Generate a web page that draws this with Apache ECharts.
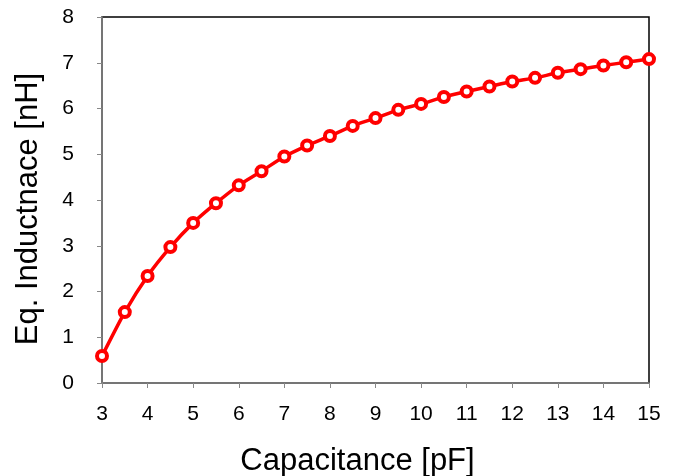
<!DOCTYPE html>
<html>
<head>
<meta charset="utf-8">
<script src="https://cdn.jsdelivr.net/npm/echarts@6/dist/echarts.min.js"></script>
<style>
  html, body { margin: 0; padding: 0; background: #fff; }
  #chart { width: 673px; height: 476px; }
</style>
</head>
<body>
<div id="chart"></div>
<script>
// capacitance [pF] and equivalent inductance [nH]
var capacitance = [3, 3.5, 4, 4.5, 5, 5.5, 6, 6.5, 7, 7.5, 8, 8.5, 9,
  9.5, 10, 10.5, 11, 11.5, 12, 12.5, 13, 13.5, 14, 14.5, 15];
var inductance = [0.59, 1.55, 2.34, 2.97, 3.50, 3.93, 4.32, 4.63, 4.95, 5.19, 5.40, 5.62, 5.79,
  5.97, 6.10, 6.25, 6.37, 6.48, 6.59, 6.67, 6.78, 6.86, 6.94, 7.01, 7.08];

var points = capacitance.map(function (c, i) { return [c, inductance[i]]; });

var myChart = echarts.init(document.getElementById('chart'));
var labelFont = 'Liberation Sans, Arial, sans-serif';

var option = {
  backgroundColor: '#fff',
  animation: false,
  grid: {
    left: 102,
    right: 24,
    top: 17,
    bottom: 93,
    outerBoundsMode: 'none',
    show: true,
    borderColor: '#000',
    borderWidth: 1.5
  },
  xAxis: {
    type: 'value',
    min: 3,
    max: 15,
    interval: 1,
    name: 'Capacitance [pF]',
    nameLocation: 'middle',
    nameGap: 63,
    // title sits a little left of centre in the original
    nameTextStyle: { fontSize: 31, color: '#000', fontFamily: labelFont, padding: [0, 36, 0, 0] },
    axisLine: { show: true, lineStyle: { color: '#888', width: 1.5 } },
    axisTick: { show: true, length: 5, lineStyle: { color: '#888' } },
    axisLabel: { margin: 21, fontSize: 21, color: '#000', fontFamily: labelFont },
    splitLine: { show: false }
  },
  yAxis: {
    type: 'value',
    min: 0,
    max: 8,
    interval: 1,
    name: 'Eq. Inductnace [nH]',
    nameLocation: 'middle',
    nameGap: 58,
    nameTextStyle: { fontSize: 31, color: '#000', fontFamily: labelFont, padding: [0, 18, 0, 0] },
    axisLine: { show: true, lineStyle: { color: '#888', width: 1.5 } },
    axisTick: { show: true, length: 5, lineStyle: { color: '#888' } },
    axisLabel: { margin: 28, fontSize: 21, color: '#000', fontFamily: labelFont },
    splitLine: { show: false }
  },
  series: [{
    type: 'line',
    data: points,
    smooth: 0.2,
    clip: false,
    symbol: 'circle',
    symbolSize: 10,
    showSymbol: true,
    lineStyle: { color: '#ff0000', width: 3.5 },
    itemStyle: { color: '#fff', borderColor: '#ff0000', borderWidth: 4 }
  }]
};
myChart.setOption(option);
</script>
</body>
</html>
